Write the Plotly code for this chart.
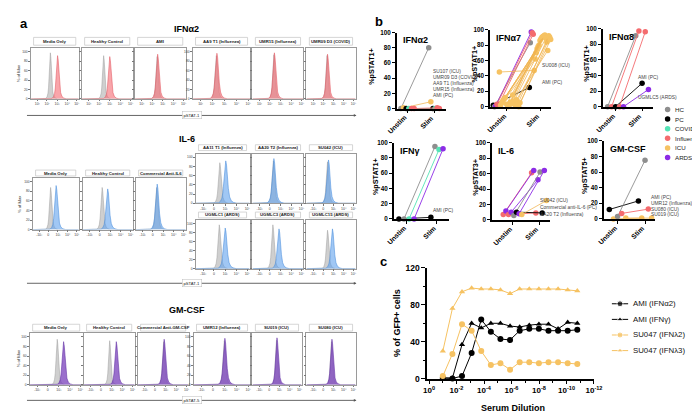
import plotly.graph_objects as go

W, H = 700, 412
FONT = "Arial, Liberation Sans, Helvetica, sans-serif"

# ---------------- Panel a: flow histograms (peak position on 0-1 axis, height in % of max) ----------------
IFNA2_SAMPLES = ["Media Only", "Healthy Control", "AMI", "AA9 T1 (Influenza)", "UMR15 (Influenza)", "UMR09 D3 (COVID)"]
IFNA2_CTRL_PEAK = [0.41, 0.43, 0.44, 0.41, 0.42, 0.42]
IFNA2_STIM_PEAK = [0.56, 0.55, 0.45, 0.42, 0.43, 0.43]
IFNA2_CTRL_H = [98, 92, 90, 92, 94, 92]
IFNA2_STIM_H = [92, 90, 95, 97, 98, 95]

IL6_SAMPLES = ["Media Only", "Healthy Control", "Commercial Anti-IL6", "AA11 T1 (Influenza)", "AA20 T2 (Influenza)",
               "SU042 (ICU)", "UGMLC1 (ARDS)", "UGMLC3 (ARDS)", "UGMLC15 (ARDS)"]
IL6_CTRL_PEAK = [0.39, 0.39, 0.42, 0.45, 0.41, 0.43, 0.44, 0.40, 0.43]
IL6_STIM_PEAK = [0.51, 0.50, 0.43, 0.56, 0.42, 0.45, 0.55, 0.52, 0.53]
IL6_CTRL_H = [88, 88, 88, 88, 92, 90, 97, 97, 85]
IL6_STIM_H = [92, 85, 95, 92, 97, 94, 90, 88, 88]

GMCSF_SAMPLES = ["Media Only", "Healthy Control", "Commercial Anti-GM-CSF", "UMR12 (Influenza)", "SU019 (ICU)", "SU080 (ICU)"]
GMCSF_CTRL_PEAK = [0.52, 0.51, 0.51, 0.54, 0.49, 0.51]
GMCSF_STIM_PEAK = [0.64, 0.64, 0.52, 0.55, 0.50, 0.52]
GMCSF_CTRL_H = [95, 92, 90, 92, 93, 90]
GMCSF_STIM_H = [90, 90, 95, 97, 98, 95]

# shape of one histogram peak (offset from peak, fraction of peak height)
HIST_PROFILE_DX = [-0.16, -0.11, -0.08, -0.06, -0.045, -0.03, -0.015, 0, 0.012, 0.025, 0.04, 0.06, 0.085, 0.12, 0.17]
HIST_PROFILE_Y = [0, 0.01, 0.05, 0.12, 0.25, 0.5, 0.82, 1, 0.9, 0.62, 0.35, 0.15, 0.06, 0.02, 0]

HIST_TICKS_IFN = ["10¹", "10²", "10³", "10⁴", "10⁵"]
HIST_TICKS_ST = ["-10³", "0", "10³", "10⁴", "10⁵"]

# ---------------- Panel b: %pSTAT+ Unstim -> Stim ----------------
B_CATEGORIES = ["Unstim", "Stim"]

B_A2_GROUP = ["HC", "ICU", "PC", "COVID", "Influenza", "Influenza"]
B_A2_UNSTIM = [0, 1, 0, 0, 0, 0]
B_A2_STIM = [80, 9, 0, 0, 1, 0]

B_A7_GROUP = ["PC", "HC", "ARDS", "Influenza", "Influenza"] + ["ICU"] * 18
B_A7_UNSTIM = [2, 0, 1, 3, 1, 45, 2, 5, 8, 10, 12, 3, 0, 1, 6, 4, 15, 7, 2, 9, 3, 0, 5]
B_A7_STIM = [25, 83, 97, 96, 94, 47, 62, 70, 75, 78, 80, 86, 88, 90, 91, 92, 93, 89, 84, 73, 92, 90, 87]

B_A8_GROUP = ["HC", "Influenza", "PC", "Influenza", "ARDS"]
B_A8_UNSTIM = [0, 0, 0, 0, 0]
B_A8_STIM = [91, 97, 30, 96, 22]

B_G_GROUP = ["PC", "HC", "COVID", "ARDS"]
B_G_UNSTIM = [0, 0, 0, 0]
B_G_STIM = [2, 95, 91, 92]

B_IL6_GROUP = ["Influenza", "ARDS", "Influenza", "ARDS", "HC", "PC", "ARDS", "ICU"]
B_IL6_UNSTIM = [7, 11.5, 7, 10, 5.5, 10, 8, 7]
B_IL6_STIM = [61, 64, 9, 52, 62, 9, 64, 25]

B_GM_GROUP = ["PC", "ICU", "HC", "Influenza", "ICU"]
B_GM_UNSTIM = [12, 0, 3, 7, 1]
B_GM_STIM = [23, 1, 75, 12.5, 1]

B_A2_LABELS = ["SU107 (ICU)", "UMR09 D3 (COVID)", "AA9 T1 (Influenza)", "UMR15 (Influenza)", "AMI (PC)"]
B_A7_LABELS = ["SU008 (ICU)", "AMI (PC)"]
B_A8_LABELS = ["AMI (PC)", "UGMLC5 (ARDS)"]
B_G_LABELS = ["AMI (PC)"]
B_IL6_LABELS = ["SU042 (ICU)", "Commercial anti-IL-6 (PC)", "AA20 T2 (Influenza)"]
B_GM_LABELS = ["AMI (PC)", "UMR12 (Influenza)", "SU080 (ICU)", "SU019 (ICU)"]

GROUPS = ["HC", "PC", "COVID", "Influenza", "ICU", "ARDS"]
GROUP_COLORS = {"HC": "#8e8e8e", "PC": "#000000", "COVID": "#55e3b6", "Influenza": "#f46b6e",
                "ICU": "#f6c262", "ARDS": "#8d2ce6"}

# ---------------- Panel c: serum dilution ----------------
C_DILUTION = [1e-1, 2e-2, 4e-3, 8e-4, 1.6e-4, 3.2e-5, 6.4e-6, 1.28e-6, 2.56e-7, 5.12e-8,
              1.02e-8, 2.05e-9, 4.1e-10, 8.2e-11, 1.64e-11]
C_AMI_A2 = [1, 0.5, 3, 28, 64, 51, 43, 42, 52, 54, 54, 52, 52, 52, 53]
C_AMI_G = [1, 1, 37, 60, 55, 60, 60, 57, 56, 58, 59, 59, 54, 61, 60]
C_SU047_L2 = [3, 27, 59, 52, 30, 15, 17, 10, 18, 18, 17, 18, 18, 17, 16]
C_SU047_L3 = [30, 76, 94, 98, 97, 97, 96, 92, 97, 97, 97, 97, 97, 96, 95]
C_NAMES = ["AMI (IFNα2)", "AMI (IFNγ)", "SU047 (IFNλ2)", "SU047 (IFNλ3)"]
C_TICK_EXP = [0, -2, -4, -6, -8, -10, -12]

# =====================================================================
fig = go.Figure()
layout = {}
annotations = []
shapes = []
axis_count = [0]


def new_axes(x0, x1, y0, y1, xcfg, ycfg):
    axis_count[0] += 1
    k = axis_count[0]
    sx = "" if k == 1 else str(k)
    layout["xaxis" + sx] = dict(domain=[x0 / W, x1 / W], anchor="y" + sx, **xcfg)
    layout["yaxis" + sx] = dict(domain=[1 - y1 / H, 1 - y0 / H], anchor="x" + sx, **ycfg)
    return "x" + sx, "y" + sx


def text(x, y, s, size=8, color="black", xanchor="center", yanchor="middle", bold=False, angle=0, **kw):
    annotations.append(dict(x=x / W, y=1 - y / H, xref="paper", yref="paper", text=("<b>%s</b>" % s) if bold else s,
                            showarrow=False, xanchor=xanchor, yanchor=yanchor, textangle=angle,
                            font=dict(size=size, color=color, family=FONT), **kw))


def hist_xy(center, height, wscale):
    xs = [0] + [center + d * wscale for d in HIST_PROFILE_DX] + [1]
    ys = [0] + [height * f for f in HIST_PROFILE_Y] + [0]
    return xs, ys


def hist_panel(box, ybox, hbox, name, cpk, spk, ch, sh, fill, line, ticks, show_y, wscale):
    x0, x1 = box
    y0, y1 = ybox
    xcfg = dict(range=[0, 1], showline=True, mirror=True, linecolor="#9a9a9a", linewidth=0.6,
                ticks="outside", ticklen=1.5, tickwidth=0.5, tickcolor="#777",
                tickvals=[0.14, 0.34, 0.55, 0.76, 0.96], ticktext=ticks,
                tickfont=dict(size=3.5, color="#444", family=FONT), showgrid=False, zeroline=False)
    ycfg = dict(range=[0, 108], showline=True, mirror=True, linecolor="#9a9a9a", linewidth=0.6,
                ticks="outside", ticklen=1.5, tickwidth=0.5, tickcolor="#777",
                tickvals=[0, 20, 40, 60, 80, 100], showticklabels=show_y,
                tickfont=dict(size=3.3, color="#444", family=FONT), showgrid=False, zeroline=False)
    xr, yr = new_axes(x0, x1, y0, y1, xcfg, ycfg)
    gx, gy = hist_xy(cpk, ch, wscale * 0.8)
    fig.add_trace(go.Scatter(x=gx, y=gy, xaxis=xr, yaxis=yr, mode="lines", fill="tozeroy",
                             fillcolor="rgba(175,175,175,0.6)", line=dict(color="rgba(150,150,150,0.9)", width=0.5),
                             showlegend=False, hoverinfo="skip"))
    sx, sy = hist_xy(spk, sh, wscale)
    fig.add_trace(go.Scatter(x=sx, y=sy, xaxis=xr, yaxis=yr, mode="lines", fill="tozeroy",
                             fillcolor=fill, line=dict(color=line, width=0.6),
                             showlegend=False, hoverinfo="skip"))
    hx0, hx1 = hbox
    shapes.append(dict(type="rect", xref="paper", yref="paper", x0=(x0 + 3) / W, x1=(x1 - 3) / W,
                       y0=1 - hx1 / H, y1=1 - hx0 / H, line=dict(color="#c4c4c4", width=0.7),
                       fillcolor="white"))
    text((x0 + x1) / 2, (hx0 + hx1) / 2, name, size=4.3, bold=True, color="#222")


def axis_arrow(y, label):
    annotations.append(dict(x=351 / W, y=1 - y / H, xref="paper", yref="paper",
                            ax=-331, ay=0, showarrow=True, arrowhead=2, arrowsize=0.6,
                            arrowwidth=0.9, arrowcolor="#555", text=""))
    text(183, y, label, size=4.2, color="#222", bgcolor="white", bordercolor="#bbb", borderwidth=0.5, borderpad=1)


RED = ("rgba(246,110,118,0.62)", "rgba(225,85,95,0.9)")
BLUE = ("rgba(96,162,236,0.6)", "rgba(70,140,220,0.9)")
PURP = ("rgba(125,70,190,0.78)", "rgba(100,50,165,0.95)")

# --- IFNa2 row
ifn_boxes = [(19, 68), (71, 123), (125, 177), (184, 243), (245, 297), (300, 350)]
for i, nm in enumerate(IFNA2_SAMPLES):
    hist_panel(ifn_boxes[i], (36, 88), (25, 33), nm, IFNA2_CTRL_PEAK[i], IFNA2_STIM_PEAK[i],
               IFNA2_CTRL_H[i], IFNA2_STIM_H[i], RED[0], RED[1], HIST_TICKS_IFN, i in (0, 3), 1.05)

# --- IL-6 block
il6_boxes = [(21, 68), (72, 123), (126, 177), (187, 242), (245, 297), (300, 350), (187, 242), (245, 297), (300, 350)]
il6_y = [(169, 222)] * 3 + [(144, 195)] * 3 + [(212, 262)] * 3
il6_h = [(161, 167)] * 3 + [(135, 141)] * 3 + [(204, 210)] * 3
for i, nm in enumerate(IL6_SAMPLES):
    hist_panel(il6_boxes[i], il6_y[i], il6_h[i], nm, IL6_CTRL_PEAK[i], IL6_STIM_PEAK[i],
               IL6_CTRL_H[i], IL6_STIM_H[i], BLUE[0], BLUE[1], HIST_TICKS_ST, i in (0, 3, 6), 1.2)

# --- GM-CSF row
gm_boxes = [(18, 72), (73, 125), (128, 180), (185, 243), (245, 295), (300, 350)]
for i, nm in enumerate(GMCSF_SAMPLES):
    hist_panel(gm_boxes[i], (328, 381), (319, 326), nm, GMCSF_CTRL_PEAK[i], GMCSF_STIM_PEAK[i],
               GMCSF_CTRL_H[i], GMCSF_STIM_H[i], PURP[0], PURP[1], HIST_TICKS_ST, i in (0, 3), 1.05)

text(178, 16, "IFNα2", size=9, bold=True)
text(178, 129, "IL-6", size=9, bold=True)
text(178, 304, "GM-CSF", size=9, bold=True)
for yy in (62, 196, 354):
    text(7, yy, "% of Max", size=4.2, angle=-90, color="#333")
axis_arrow(105, "pSTAT-1")
axis_arrow(277, "pSTAT-1")
axis_arrow(397, "pSTAT-5")


# ---------------- Panel b ----------------
def spread(n, width):
    if n == 1:
        return [0.0]
    return [(i - (n - 1) / 2) * width / (n - 1) for i in range(n)]


def b_panel(geom, title, ytitle, ytx, groups, unstim, stim, labels, lab_x, lab_y, lab_dy, jit):
    a, u, s, e, yt, yb = geom
    xcfg = dict(range=[(a - u) / (s - u), (e - u) / (s - u)], tickmode="array", tickvals=[0, 1],
                showticklabels=False, ticks="outside", ticklen=3,
                tickwidth=1.2, showline=True, linewidth=1.5, linecolor="black", tickcolor="black",
                showgrid=False, zeroline=False)
    ycfg = dict(range=[0, 100], tickvals=[0, 20, 40, 60, 80, 100],
                ticks="outside", ticklen=3,
                tickwidth=1.2, showline=True, linewidth=1.5, linecolor="black", tickcolor="black",
                tickfont=dict(size=6.3, color="black", family=FONT, weight="bold"),
                showgrid=False, zeroline=False)
    xr, yr = new_axes(a, e, yt, yb, xcfg, ycfg)
    n = len(groups)
    offs = spread(n, jit)
    for i in range(n):
        c = GROUP_COLORS[groups[i]]
        lc = c if groups[i] != "ICU" else "rgba(240,180,80,0.85)"
        fig.add_trace(go.Scatter(x=[0 + offs[i], 1 + offs[i] * 0.8], y=[unstim[i], stim[i]], xaxis=xr, yaxis=yr,
                                 mode="lines+markers", line=dict(color=lc, width=0.9),
                                 marker=dict(color=c, size=5.5), cliponaxis=False,
                                 showlegend=False, hoverinfo="skip"))
    # rotated category labels, ending at their tick
    for cat, px in zip(B_CATEGORIES, (u, s)):
        text(px + 3, yb + 3, cat, size=6.8, bold=True, xanchor="right", yanchor="top", angle=-45)
    text(a + 4, yt + 1, title, size=9, bold=True, xanchor="left", yanchor="top")
    text(ytx, (yt + yb) / 2 - 4, ytitle, size=7.2, bold=True, angle=-90)
    for j, lb in enumerate(labels):
        text(lab_x, lab_y + j * lab_dy, lb, size=4.9, color="#444", xanchor="left")


b_panel((392, 403, 430, 442, 20, 98), "IFNα2", "%pSTAT1+", 366, B_A2_GROUP, B_A2_UNSTIM, B_A2_STIM,
        B_A2_LABELS, 427, 60, 6.1, 0.5)
b_panel((487, 504, 538, 549, 17, 96), "IFNα7", "%pSTAT1+", 471, B_A7_GROUP, B_A7_UNSTIM, B_A7_STIM,
        B_A7_LABELS, 538, 54, 17, 0.8)
b_panel((602, 615, 642, 653, 16, 96), "IFNα8", "%pSTAT1+", 586, B_A8_GROUP, B_A8_UNSTIM, B_A8_STIM,
        B_A8_LABELS, 636, 66, 21, 0.6)
b_panel((389, 402, 433, 445, 133, 211), "IFNγ", "%pSTAT1+", 371, B_G_GROUP, B_G_UNSTIM, B_G_STIM,
        B_G_LABELS, 427, 202, 6, 0.5)
b_panel((489, 510, 537, 548, 133, 212), "IL-6", "%pSTAT3+", 472, B_IL6_GROUP, B_IL6_UNSTIM, B_IL6_STIM,
        B_IL6_LABELS, 536, 192, 7.5, 0.7)
b_panel((603, 617, 645, 655, 131, 211), "GM-CSF", "%pSTAT5+", 584, B_GM_GROUP, B_GM_UNSTIM, B_GM_STIM,
        B_GM_LABELS, 649, 189, 6, 0.6)

# panel b legend (manual, compact)
lx, ly = new_axes(663, 673, 94, 153, dict(range=[-1, 1], visible=False), dict(range=[5.5, -0.5], visible=False))
fig.add_trace(go.Scatter(x=[0] * len(GROUPS), y=list(range(len(GROUPS))), xaxis=lx, yaxis=ly, mode="markers",
                         marker=dict(color=[GROUP_COLORS[g] for g in GROUPS], size=5.5),
                         showlegend=False, hoverinfo="skip"))
for i, g in enumerate(GROUPS):
    text(674, 99 + i * 9.8, g, size=6.2, xanchor="left", color="#222")

# ---------------- Panel c ----------------
cx, cy = new_axes(423, 593, 261, 375,
                  dict(type="log", range=[0.14, -12], tickvals=[10.0 ** e for e in C_TICK_EXP],
                       ticktext=["10<sup>%d</sup>" % e for e in C_TICK_EXP], ticks="outside", ticklen=3,
                       tickwidth=1.2, showline=True, linewidth=1.5, linecolor="black", tickcolor="black",
                       minor=dict(tickvals=[10.0 ** e for e in range(-1, -12, -2)], ticks="outside", ticklen=2,
                                  tickwidth=1, tickcolor="black"),
                       tickfont=dict(size=8, color="black", family=FONT, weight="bold"),
                       showgrid=False, zeroline=False),
                  dict(range=[0, 120], tickvals=[0, 40, 80, 120],
                       ticks="outside", ticklen=4, tickwidth=1.2, showline=True, linewidth=1.5, linecolor="black",
                       tickcolor="black", minor=dict(tickvals=[20, 60, 100], ticks="outside", ticklen=2.5,
                                                     tickwidth=1, tickcolor="black"),
                       tickfont=dict(size=8.5, color="black", family=FONT, weight="bold"),
                       showgrid=False, zeroline=False))
C_SERIES = [C_AMI_A2, C_AMI_G, C_SU047_L2, C_SU047_L3]
C_COLORS = ["#000000", "#000000", "#f6c262", "#f6c262"]
C_SYMBOLS = ["circle", "triangle-up", "circle", "triangle-up"]
C_SIZES = [6, 5.5, 6, 5.5]
for i, ser in enumerate(C_SERIES):
    fig.add_trace(go.Scatter(x=C_DILUTION, y=ser, xaxis=cx, yaxis=cy, mode="lines+markers",
                             line=dict(color=C_COLORS[i], width=1),
                             marker=dict(color=C_COLORS[i], size=C_SIZES[i], symbol=C_SYMBOLS[i]),
                             cliponaxis=False, showlegend=False, hoverinfo="skip"))
text(510, 405, "Serum Dilution", size=9, bold=True)
text(393, 318, "% of GFP+ cells", size=9, bold=True, angle=-90)

# panel c legend (manual)
gx, gy = new_axes(611, 628, 290, 354, dict(range=[0, 2], visible=False), dict(range=[3.5, -0.5], visible=False))
for i in range(4):
    fig.add_trace(go.Scatter(x=[0, 1, 2], y=[i, i, i], xaxis=gx, yaxis=gy, mode="lines+markers",
                             line=dict(color=C_COLORS[i], width=1),
                             marker=dict(color=C_COLORS[i], size=[0, C_SIZES[i], 0], symbol=C_SYMBOLS[i]),
                             showlegend=False, hoverinfo="skip"))
    text(631, 298 + i * 16, C_NAMES[i], size=7.8, xanchor="left", color="#111")

# panel letters
text(6, 11, "a", size=13, bold=True, xanchor="left")
text(368, 9, "b", size=13, bold=True, xanchor="left")
text(373, 255, "c", size=13, bold=True, xanchor="left")

fig.update_layout(width=W, height=H, margin=dict(l=0, r=0, t=0, b=0), paper_bgcolor="white",
                  plot_bgcolor="white", showlegend=False, font=dict(family=FONT),
                  annotations=annotations, shapes=shapes, **layout)
fig.write_html("out.html")
